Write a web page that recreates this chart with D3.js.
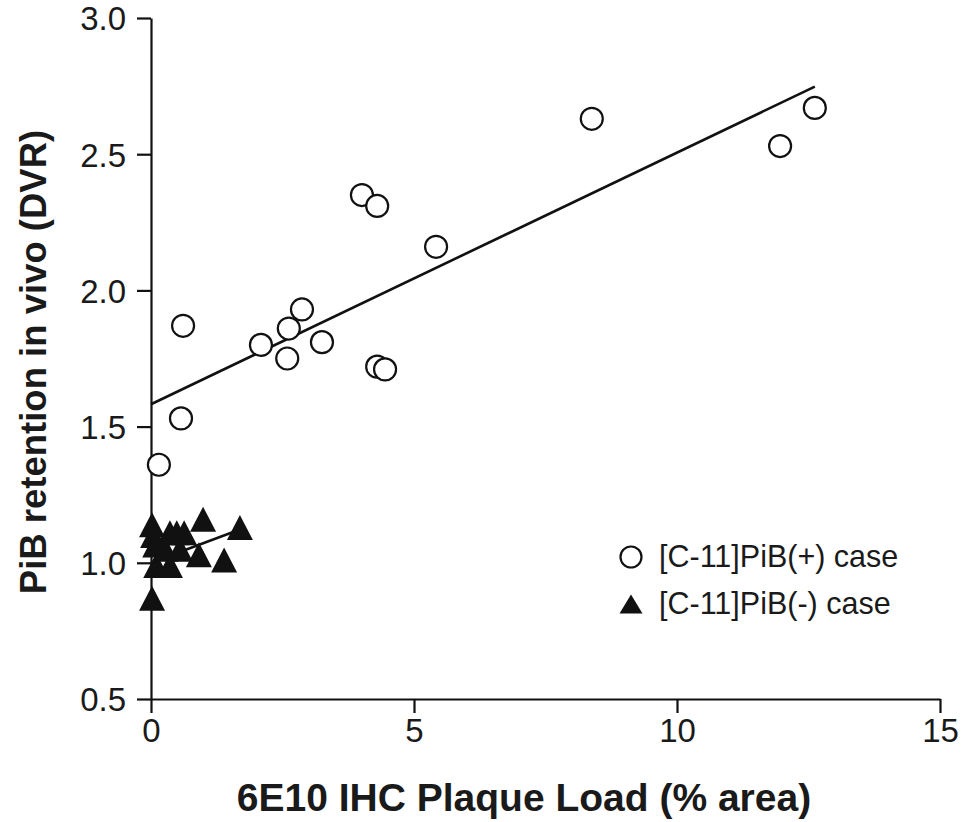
<!DOCTYPE html>
<html>
<head>
<meta charset="utf-8">
<script src="https://cdn.jsdelivr.net/npm/d3@7"></script>
<style>
  html, body { margin: 0; padding: 0; background: #fff; }
  svg { display: block; }
  text { font-family: "Liberation Sans", Arial, Helvetica, sans-serif; fill: #1a1a1a; }
</style>
</head>
<body>
<svg id="chart" width="965" height="822"></svg>
<script>
// ---- data ----
const xTicks = [0, 5, 10, 15];
const yTicks = [0.5, 1.0, 1.5, 2.0, 2.5, 3.0];

// [C-11]PiB(+) cases (open circles)
const posX = [0.15, 0.57, 0.61, 2.09, 2.62, 2.59, 2.87, 3.25, 4.01, 4.30, 4.30, 4.45, 5.42, 8.38, 11.96, 12.62];
const posY = [1.36, 1.53, 1.87, 1.80, 1.86, 1.75, 1.93, 1.81, 2.35, 2.31, 1.72, 1.71, 2.16, 2.63, 2.53, 2.67];

// [C-11]PiB(-) cases (filled triangles)
const negX = [0.02, 0.36, 0.49, 0.63, 0.99, 1.69, 0.91, 1.39, 0.02, 0.04, 0.08, 0.10, 0.36, 0.27, 0.55];
const negY = [1.14, 1.11, 1.11, 1.11, 1.16, 1.13, 1.03, 1.01, 0.87, 1.10, 1.065, 0.99, 0.99, 1.05, 1.05];

// regression lines
const posLineX = [0, 12.62];
const posLineY = [1.582, 2.748];
const negLineX = [0, 1.69];
const negLineY = [1.00, 1.122];

const legendLabels = ["[C-11]PiB(+) case", "[C-11]PiB(-) case"];
const xTitle = "6E10 IHC Plaque Load (% area)";
const yTitle = "PiB retention in vivo (DVR)";

// ---- chart ----
const svg = d3.select("#chart");
const x = d3.scaleLinear().domain([0, 15]).range([151, 940]);
const y = d3.scaleLinear().domain([0.5, 3.0]).range([699, 18]);

const ink = "#111";

const xAxis = svg.append("g")
  .attr("transform", `translate(0,${y(0.5)})`)
  .call(d3.axisBottom(x).tickValues(xTicks).tickSize(14).tickSizeOuter(0).tickPadding(6).tickFormat(d3.format("d")));
const yAxis = svg.append("g")
  .attr("transform", `translate(${x(0)},0)`)
  .call(d3.axisLeft(y).tickValues(yTicks).tickSize(14).tickSizeOuter(0).tickPadding(11).tickFormat(d3.format(".1f")));

[xAxis, yAxis].forEach(g => {
  g.select(".domain").attr("stroke", ink).attr("stroke-width", 2.2);
  g.selectAll(".tick line").attr("stroke", ink).attr("stroke-width", 2.2);
  g.selectAll(".tick text").attr("fill", "#1a1a1a").style("font-size", "33px")
    .style("font-family", '"Liberation Sans", Arial, sans-serif');
});
yAxis.selectAll(".tick text").attr("dy", "0.36em");

// axis titles
svg.append("text")
  .attr("x", 524).attr("y", 811)
  .attr("text-anchor", "middle")
  .style("font-size", "39px").style("font-weight", "bold")
  .text(xTitle);
svg.append("text")
  .attr("transform", `translate(46,${362}) rotate(-90)`)
  .attr("text-anchor", "middle")
  .style("font-size", "36.5px").style("font-weight", "bold")
  .text(yTitle);

// regression lines
const line = d3.line().x(d => x(d[0])).y(d => y(d[1]));
svg.append("path")
  .attr("d", line(posLineX.map((v, i) => [v, posLineY[i]])))
  .attr("fill", "none").attr("stroke", ink).attr("stroke-width", 2.6);
svg.append("path")
  .attr("d", line(negLineX.map((v, i) => [v, negLineY[i]])))
  .attr("fill", "none").attr("stroke", ink).attr("stroke-width", 2.6);

// triangle path centered on (0,0)
function tri(w, h) {
  return `M0,${-h/2}L${w/2},${h/2}L${-w/2},${h/2}Z`;
}

// triangles
svg.append("g").selectAll("path")
  .data(negX.map((v, i) => [v, negY[i]]))
  .join("path")
  .attr("transform", d => `translate(${x(d[0])},${y(d[1])})`)
  .attr("d", tri(26, 25))
  .attr("fill", ink);

// circles
svg.append("g").selectAll("circle")
  .data(posX.map((v, i) => [v, posY[i]]))
  .join("circle")
  .attr("cx", d => x(d[0])).attr("cy", d => y(d[1]))
  .attr("r", 11)
  .attr("fill", "#fff")
  .attr("stroke", ink).attr("stroke-width", 2.2);

// legend
const lg = svg.append("g").attr("transform", "translate(631,0)");
lg.append("circle").attr("cx", 0).attr("cy", 557).attr("r", 10.5)
  .attr("fill", "#fff").attr("stroke", ink).attr("stroke-width", 2.2);
lg.append("path").attr("transform", "translate(0,604)").attr("d", tri(23, 19)).attr("fill", ink);
lg.selectAll("text.lt").data(legendLabels).join("text")
  .attr("class", "lt")
  .attr("x", 28).attr("y", (d, i) => 567 + i * 47)
  .style("font-size", "30.5px")
  .text(d => d);
</script>
</body>
</html>
